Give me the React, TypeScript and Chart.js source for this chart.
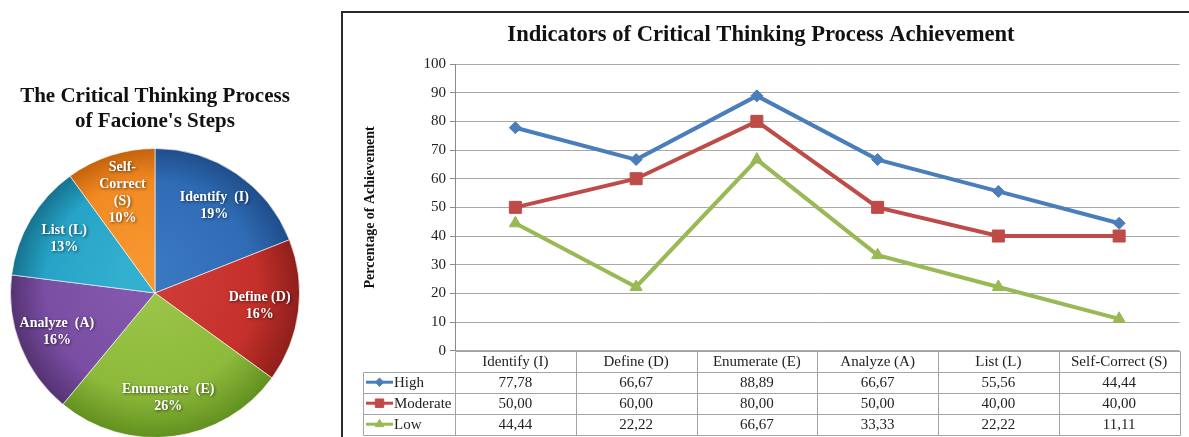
import React, { useEffect, useRef } from 'react';
import { Chart, registerables } from 'chart.js';
import { drawPoint } from 'chart.js/helpers';

Chart.register(...registerables);

// ---------- data ----------
const pieTitle = ['The Critical Thinking Process', "of Facione's Steps"];
const pieCategories = ['Identify  (I)', 'Define (D)', 'Enumerate  (E)', 'Analyze  (A)', 'List (L)', 'Self-Correct (S)'];
const pieValues = [19, 16, 26, 16, 13, 10];

const lineTitle = 'Indicators of Critical Thinking Process Achievement';
const yAxisTitle = 'Percentage of Achievement';
const lineCategories = ['Identify (I)', 'Define (D)', 'Enumerate (E)', 'Analyze (A)', 'List (L)', 'Self-Correct (S)'];
const seriesNames = ['High', 'Moderate', 'Low'];
const highValues = [77.78, 66.67, 88.89, 66.67, 55.56, 44.44];
const moderateValues = [50.0, 60.0, 80.0, 50.0, 40.0, 40.0];
const lowValues = [44.44, 22.22, 66.67, 33.33, 22.22, 11.11];
const yMin = 0;
const yMax = 100;
const yStep = 10;

// ---------- styles ----------
const SERIF = '"Liberation Serif", "Times New Roman", serif';
const pieShades = [
  ['#3b78c2', '#2f6cb5', '#1f4d8a'],
  ['#d03d37', '#c5302b', '#8e1f1b'],
  ['#9cc64a', '#8dba3b', '#62901f'],
  ['#8459ad', '#7a4ea3', '#543272'],
  ['#33afd0', '#26a3c6', '#16728e'],
  ['#f7962f', '#f28a22', '#c4620c'],
];
const seriesColors = ['#4A7EBB', '#BE4B48', '#98B954'];
const seriesMarkers = ['rectRot', 'rect', 'triangle'];
const seriesMarkerRadius = [6, 8.5, 7];

const fmt = (v: number) => v.toFixed(2).replace('.', ',');

function splitName(name: string): string[] {
  if (name.includes('-')) {
    const [a, rest] = name.split('-');
    const parts = rest.split(' ');
    return [a + '-', ...parts];
  }
  return [name];
}

const pieLabelPlugin = {
  id: 'pieLabels',
  afterDatasetsDraw(chart: any) {
    const meta = chart.getDatasetMeta(0);
    const ctx = chart.ctx;
    ctx.save();
    ctx.font = `bold 14px ${SERIF}`;
    ctx.fillStyle = '#ffffff';
    ctx.textAlign = 'center';
    ctx.textBaseline = 'middle';
    ctx.shadowColor = 'rgba(0,0,0,0.6)';
    ctx.shadowBlur = 3;
    ctx.shadowOffsetX = 1;
    ctx.shadowOffsetY = 1;
    meta.data.forEach((arc: any, i: number) => {
      const { x, y, startAngle, endAngle, outerRadius } = arc.getProps(
        ['x', 'y', 'startAngle', 'endAngle', 'outerRadius'],
        true
      );
      const mid = (startAngle + endAngle) / 2;
      const r = outerRadius * 0.73;
      const px = x + Math.cos(mid) * r;
      const py = y + Math.sin(mid) * r;
      const lines = [...splitName(pieCategories[i]), `${pieValues[i]}%`];
      const lh = 17;
      lines.forEach((t, k) => ctx.fillText(t, px, py + (k - (lines.length - 1) / 2) * lh));
    });
    ctx.restore();
  },
};

const framePlugin = {
  id: 'frame',
  beforeDraw(chart: any) {
    const { ctx, width, height } = chart;
    ctx.save();
    ctx.fillStyle = '#ffffff';
    ctx.fillRect(0, 0, width, height);
    ctx.strokeStyle = '#2a2a2a';
    ctx.lineWidth = 2;
    ctx.beginPath();
    ctx.moveTo(1, height);
    ctx.lineTo(1, 12);
    ctx.lineTo(width, 12);
    ctx.stroke();
    ctx.restore();
  },
};

const tablePlugin = {
  id: 'dataTable',
  afterDraw(chart: any) {
    const { ctx, chartArea: a, scales } = chart;
    const xs = scales.x;
    const n = lineCategories.length;
    const colW = (a.right - a.left) / n;
    const rowH = 21;
    const top = a.bottom;
    const legendLeft = a.left - 92;
    const px = (v: number) => Math.round(v) + 0.5;
    ctx.save();
    ctx.strokeStyle = '#a3a3a3';
    ctx.lineWidth = 1;
    ctx.beginPath();
    ctx.moveTo(px(a.left), px(top));
    ctx.lineTo(px(a.right), px(top));
    for (let r = 1; r <= 4; r++) {
      ctx.moveTo(px(legendLeft), px(top + r * rowH));
      ctx.lineTo(px(a.right), px(top + r * rowH));
    }
    for (let i = 0; i <= n; i++) {
      ctx.moveTo(px(a.left + i * colW), px(top));
      ctx.lineTo(px(a.left + i * colW), px(top + 4 * rowH));
    }
    ctx.moveTo(px(legendLeft), px(top + rowH));
    ctx.lineTo(px(legendLeft), px(top + 4 * rowH));
    ctx.stroke();

    ctx.font = `15px ${SERIF}`;
    ctx.fillStyle = '#222222';
    ctx.textAlign = 'center';
    ctx.textBaseline = 'middle';
    lineCategories.forEach((c, i) => ctx.fillText(c, xs.getPixelForValue(i), top + rowH / 2 + 1));

    chart.data.datasets.forEach((ds: any, r: number) => {
      const yc = top + (r + 1.5) * rowH;
      ctx.fillStyle = '#222222';
      ctx.textAlign = 'center';
      ds.data.forEach((v: number, i: number) => ctx.fillText(fmt(v), xs.getPixelForValue(i), yc + 1));
      // legend key
      ctx.strokeStyle = ds.borderColor;
      ctx.lineWidth = 3;
      ctx.beginPath();
      ctx.moveTo(legendLeft + 3, yc);
      ctx.lineTo(legendLeft + 30, yc);
      ctx.stroke();
      ctx.fillStyle = ds.borderColor;
      ctx.lineWidth = 1;
      drawPoint(ctx, { pointStyle: ds.pointStyle, radius: ds.pointRadius * 0.7, rotation: 0, borderWidth: 1 } as any, legendLeft + 16.5, yc);
      ctx.fillStyle = '#222222';
      ctx.textAlign = 'left';
      ctx.fillText(ds.label, legendLeft + 31, yc + 1);
    });
    ctx.restore();
  },
};

export default function App() {
  const pieRef = useRef<HTMLCanvasElement>(null);
  const lineRef = useRef<HTMLCanvasElement>(null);

  useEffect(() => {
    const pie = new Chart(pieRef.current as HTMLCanvasElement, {
      type: 'pie',
      data: {
        labels: pieCategories,
        datasets: [
          {
            data: pieValues,
            backgroundColor: (c: any) => {
              const [l, m, d] = pieShades[c.dataIndex % pieShades.length];
              const chart = c.chart;
              const ar = chart.chartArea;
              if (!ar) return m;
              const cx = (ar.left + ar.right) / 2;
              const cy = (ar.top + ar.bottom) / 2;
              const r = Math.min(ar.width, ar.height) / 2;
              const g = chart.ctx.createRadialGradient(cx - r * 0.1, cy - r * 0.15, r * 0.1, cx, cy, r);
              g.addColorStop(0, l);
              g.addColorStop(0.7, m);
              g.addColorStop(1, d);
              return g;
            },
            borderColor: 'rgba(255,255,255,0.6)',
            borderWidth: 1,
          },
        ],
      },
      options: {
        responsive: false,
        animation: false,
        layout: { padding: { left: 10, right: 10, top: 0, bottom: 12 } },
        plugins: {
          legend: { display: false },
          tooltip: { enabled: false },
          title: {
            display: true,
            text: pieTitle,
            color: '#111111',
            font: { family: SERIF, size: 21, weight: 'bold', lineHeight: 1.19 },
            padding: { top: 84.5, bottom: 13.5 },
          },
        },
      },
      plugins: [pieLabelPlugin],
    } as any);

    const line = new Chart(lineRef.current as HTMLCanvasElement, {
      type: 'line',
      data: {
        labels: lineCategories,
        datasets: [highValues, moderateValues, lowValues].map((vals, i) => ({
          label: seriesNames[i],
          data: vals,
          borderColor: seriesColors[i],
          backgroundColor: seriesColors[i],
          borderWidth: 4,
          pointStyle: seriesMarkers[i],
          pointRadius: seriesMarkerRadius[i],
          pointBorderWidth: 1,
          pointBackgroundColor: seriesColors[i],
          pointBorderColor: seriesColors[i],
          tension: 0,
          fill: false,
        })),
      },
      options: {
        responsive: false,
        animation: false,
        layout: { padding: { left: 0, right: 8, top: 0, bottom: 86.3 } },
        plugins: {
          legend: { display: false },
          tooltip: { enabled: false },
          title: {
            display: true,
            text: lineTitle,
            color: '#111111',
            font: { family: SERIF, size: 22.6, weight: 'bold', lineHeight: 1.2 },
            padding: { top: 21.4, bottom: 15.5 },
          },
        },
        scales: {
          x: { type: 'category', display: false, offset: true },
          y: {
            min: yMin,
            max: yMax,
            ticks: { stepSize: yStep, color: '#222222', font: { family: SERIF, size: 15 }, padding: 4 },
            grid: { color: '#a8a8a8', tickLength: 5, tickColor: '#888888' },
            border: { color: '#8a8a8a' },
            title: {
              display: true,
              text: yAxisTitle,
              color: '#111111',
              font: { family: SERIF, size: 14, weight: 'bold', lineHeight: 1.2 },
              padding: { top: 20.6, bottom: 0 },
            },
            afterFit: (s: any) => {
              s.width = 114;
            },
          },
        },
      },
      plugins: [framePlugin, tablePlugin],
    } as any);

    return () => {
      pie.destroy();
      line.destroy();
    };
  }, []);

  return (
    <div
      style={{
        position: 'fixed',
        left: 0,
        top: 0,
        width: 1189,
        height: 437,
        overflow: 'hidden',
        background: '#ffffff',
      }}
    >
      <canvas
        ref={pieRef}
        width={310}
        height={450}
        style={{ position: 'absolute', left: 0, top: 0, width: 310, height: 450 }}
      />
      <canvas
        ref={lineRef}
        width={848}
        height={437}
        style={{ position: 'absolute', left: 341, top: 0, width: 848, height: 437 }}
      />
    </div>
  );
}
